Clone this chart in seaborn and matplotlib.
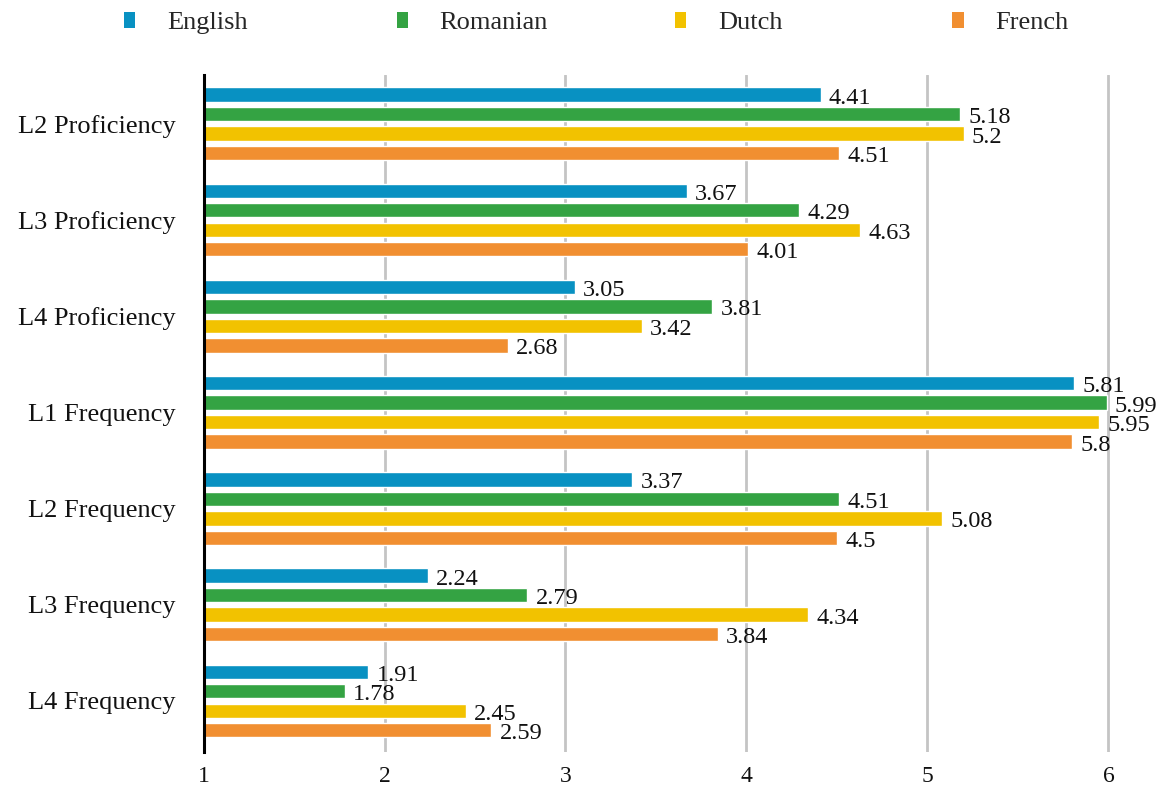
import matplotlib
matplotlib.use("Agg")
import matplotlib.pyplot as plt
import seaborn as sns
import pandas as pd

categories = ["L2 Proficiency", "L3 Proficiency", "L4 Proficiency",
              "L1 Frequency", "L2 Frequency", "L3 Frequency", "L4 Frequency"]
languages = ["English", "Romanian", "Dutch", "French"]
english = [4.41, 3.67, 3.05, 5.81, 3.37, 2.24, 1.91]
romanian = [5.18, 4.29, 3.81, 5.99, 4.51, 2.79, 1.78]
dutch = [5.2, 4.63, 3.42, 5.95, 5.08, 4.34, 2.45]
french = [4.51, 4.01, 2.68, 5.8, 4.5, 3.84, 2.59]
x_ticks = [1, 2, 3, 4, 5, 6]

colors = ["#0891c2", "#34a343", "#f2c200", "#f18f31"]

series = {"English": english, "Romanian": romanian, "Dutch": dutch, "French": french}
rows = []
for lang in languages:
    for cat, val in zip(categories, series[lang]):
        rows.append({"Measure": cat, "Score": val, "Language": lang})
df = pd.DataFrame(rows)

sns.set_style("white")
plt.rcParams["font.family"] = ["Liberation Serif", "DejaVu Serif"]

fig = plt.figure(figsize=(11.7, 7.87), dpi=100)
ax = fig.add_axes([0.174, 0.0445, 0.812, 0.8605])

sns.barplot(data=df, x="Score", y="Measure", hue="Language", order=categories,
            hue_order=languages, palette=colors, saturation=1, orient="h",
            width=0.81, gap=0.26, edgecolor="white", linewidth=1.0,
            legend=True, ax=ax, zorder=3)

ax.set_xlim(1, 6.25)
ax.set_ylim(6.53, -0.51)
ax.set_xticks(x_ticks)
ax.set_xticklabels([str(t) for t in x_ticks])
ax.set_xlabel("")
ax.set_ylabel("")

ax.grid(axis="x", color="#c4c4c4", linewidth=2.0, zorder=0)
ax.grid(axis="y", visible=False)
ax.set_axisbelow(True)

for side in ["top", "right", "bottom"]:
    ax.spines[side].set_visible(False)
ax.spines["left"].set_color("black")
ax.spines["left"].set_linewidth(2.2)
ax.spines["left"].set_zorder(4)

ax.tick_params(axis="y", length=0, pad=20, labelsize=19, labelcolor="#111111")
ax.tick_params(axis="x", length=0, pad=10, labelsize=17, labelcolor="#111111")

# value labels just past each bar end, sitting slightly below the bar centre
for container, lang in zip(ax.containers, languages):
    for bar, v in zip(container, series[lang]):
        yc = bar.get_y() + bar.get_height() / 2
        ax.annotate(str(v), xy=(v, yc), xytext=(6, -2.5), textcoords="offset points",
                    ha="left", va="center", fontsize=17.5, color="#111111", zorder=5)

ax.get_legend().remove()

handles = [plt.Rectangle((0, 0), 1, 1, facecolor=c, edgecolor="none") for c in colors]
legend_x = [0.088, 0.321, 0.559, 0.796]
for h, lang, lx in zip(handles, languages, legend_x):
    fig.legend([h], [lang], loc="upper left", bbox_to_anchor=(lx, 1.012),
               frameon=False, fontsize=19, handlelength=0.42, handleheight=0.55,
               handletextpad=1.2, borderpad=0.3)

fig.savefig("out.png", dpi=100)
